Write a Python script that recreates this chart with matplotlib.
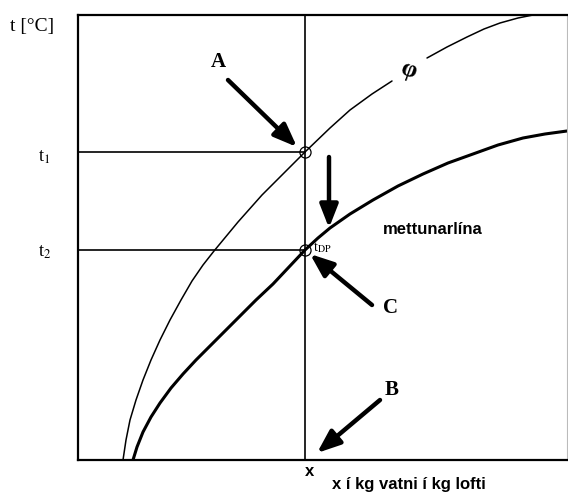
import numpy as np
import matplotlib.pyplot as plt

plt.rcParams["font.family"] = "serif"
plt.rcParams["font.serif"] = ["Liberation Serif", "DejaVu Serif"]
plt.rcParams["mathtext.fontset"] = "stix"

# Relative humidity curve (phi), split where the label sits
phi_x_low = [45, 48, 52, 58, 65, 73, 82, 92, 103, 114, 125, 136, 160, 184, 207, 227, 252, 272, 294, 314]
phi_t_low = [0, 20, 40, 60, 80, 100, 120, 140, 160, 179, 195, 209, 238, 265, 288, 308, 332, 350, 366, 379]
phi_x_high = [349, 369, 389, 406, 422, 440, 455]
phi_t_high = [402, 413, 423, 431, 437, 442, 445]

# Saturation line (mettunarlína)
sat_x = [55, 59, 65, 73, 82, 93, 105, 118, 132, 147, 162, 178, 195, 211, 227,
         240, 252, 272, 295, 320, 345, 370, 395, 420, 445, 467, 489]
sat_t = [0, 13, 28, 43, 57, 72, 86, 100, 114, 129, 144, 160, 176, 193, 210,
         222, 232, 246, 260, 274, 286, 297, 306, 315, 322, 326, 329]

# State points
x_point = 227
t1 = 308
t2 = 210

# Arrows: (tail, head)
arrows = {
    "A": ((150, 380), (219, 313)),
    "down": ((251, 303), (251, 232)),
    "C": ((294, 155), (232, 206)),
    "B": ((302, 60), (239, 7)),
}

W, H = 568, 495
fig = plt.figure(figsize=(W / 100, H / 100), dpi=100)
ax = fig.add_axes([78 / W, 35 / H, 489 / W, 445 / H])
ax.set_xlim(0, 489)
ax.set_ylim(0, 445)
ax.set_xticks([])
ax.set_yticks([])
for side in ["left", "bottom", "top"]:
    ax.spines[side].set_linewidth(1.6)
ax.spines["right"].set_linewidth(0.8)
ax.spines["right"].set_color("#bbbbbb")

# curves
ax.plot(phi_x_low, phi_t_low, color="black", lw=1.1, solid_capstyle="round")
ax.plot(phi_x_high, phi_t_high, color="black", lw=1.1, solid_capstyle="round")
ax.plot(sat_x, sat_t, color="black", lw=2.2, solid_capstyle="round", solid_joinstyle="round")

# construction lines
ax.plot([x_point, x_point], [0, 445], color="black", lw=1.2)
ax.plot([0, x_point], [t1, t1], color="black", lw=1.2)
ax.plot([0, x_point], [t2, t2], color="black", lw=1.2)
ax.plot([x_point, x_point], [t1, t2], "o", ms=8, mfc="none", mec="black", mew=0.9)

for key, (tail, head) in arrows.items():
    ax.annotate("", xy=head, xytext=tail,
                arrowprops=dict(arrowstyle="-|>,head_length=1.4,head_width=0.55",
                                lw=3.2, color="black", shrinkA=0, shrinkB=0))

# labels inside the diagram
ax.text(140, 398, "A", fontsize=15, fontweight="bold", ha="center", va="center")
ax.text(314, 70, "B", fontsize=15, fontweight="bold", ha="center", va="center")
ax.text(312, 152, "C", fontsize=15, fontweight="bold", ha="center", va="center")
ax.text(330, 390, "φ", fontsize=18, fontweight="bold", ha="center", va="center", rotation=-20)
ax.text(235, 212, r"t$_{\mathrm{DP}}$", fontsize=10, ha="left", va="center")
ax.text(305, 230, "mettunarlína", fontsize=12, family="Liberation Sans",
        fontweight="bold", ha="left", va="center")

# labels around the frame
fig.text(10 / W, 1 - 27 / H, "t [°C]", fontsize=14, ha="left", va="center")
fig.text(38 / W, 1 - 157 / H, r"t$_1$", fontsize=13, ha="left", va="center")
fig.text(38 / W, 1 - 252 / H, r"t$_2$", fontsize=13, ha="left", va="center")
fig.text(310 / W, 1 - 472 / H, "x", fontsize=12, family="Liberation Sans",
         fontweight="bold", ha="center", va="center")
fig.text(332 / W, 1 - 484 / H, "x í kg vatni í kg lofti", fontsize=12,
         family="Liberation Sans", fontweight="bold", ha="left", va="center")

fig.savefig("out.png", dpi=100, facecolor="white")
